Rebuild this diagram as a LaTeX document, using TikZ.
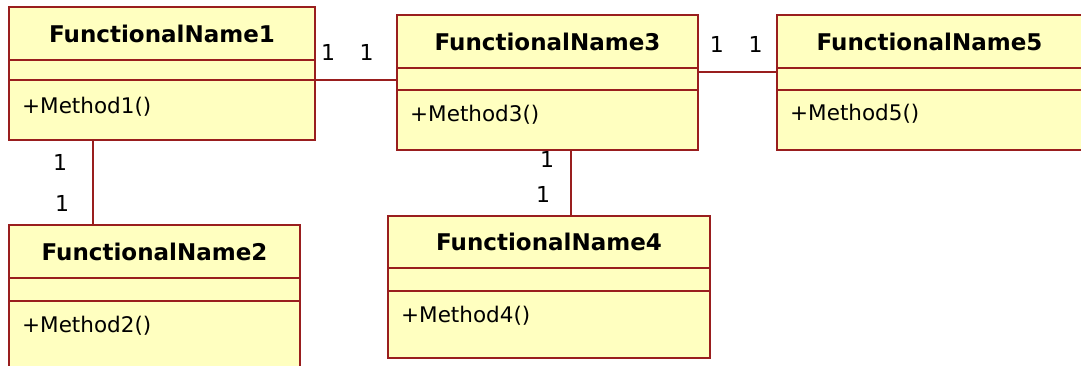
\documentclass[tikz,border=0pt]{standalone}
\usepackage{fontspec}
\setmainfont{DejaVu Sans}
\usepackage{tikz}
\usetikzlibrary{positioning}
\definecolor{umlfill}{RGB}{255,255,192}
\definecolor{umlline}{RGB}{153,30,30}
\tikzstyle{compart} = [draw=umlline, fill=umlfill, line width=2pt, inner sep=0pt, outer sep=0pt, anchor=north west]
\tikzstyle{classname} = [font=\bfseries\fontsize{23}{27}\selectfont]
\tikzstyle{method} = [font=\fontsize{21.5}{25}\selectfont, anchor=west, inner sep=0pt]
\tikzstyle{assoc} = [draw=umlline, line width=2pt]
\tikzstyle{mult} = [font=\fontsize{22}{26}\selectfont, inner sep=0pt]

\begin{document}
\begin{tikzpicture}[x=1pt, y=-1pt]
\useasboundingbox (0,0) rectangle (1081,366);
% class 1
\node (n1) [compart, classname, minimum width=306pt, minimum height=53pt] at (9,7) {FunctionalName1};
\node (a1) [compart, minimum width=306pt, minimum height=20pt] at (n1.south west) {};
\node (m1) [compart, minimum width=306pt, minimum height=60pt] at (a1.south west) {};
\node (t1) [method] at ([xshift=13pt, yshift=-27pt]m1.north west) {+Method1()};
% class 2
\node (n2) [compart, classname, minimum width=291pt, minimum height=53pt] at (9,225) {FunctionalName2};
\node (a2) [compart, minimum width=291pt, minimum height=23pt] at (n2.south west) {};
\node (m2) [compart, minimum width=291pt, minimum height=66pt] at (a2.south west) {};
\node (t2) [method] at ([xshift=13pt, yshift=-25pt]m2.north west) {+Method2()};
% class 3
\node (n3) [compart, classname, minimum width=301pt, minimum height=53pt] at (397,15) {FunctionalName3};
\node (a3) [compart, minimum width=301pt, minimum height=22pt] at (n3.south west) {};
\node (m3) [compart, minimum width=301pt, minimum height=60pt] at (a3.south west) {};
\node (t3) [method] at ([xshift=13pt, yshift=-25pt]m3.north west) {+Method3()};
% class 4
\node (n4) [compart, classname, minimum width=322pt, minimum height=52pt] at (388,216) {FunctionalName4};
\node (a4) [compart, minimum width=322pt, minimum height=23pt] at (n4.south west) {};
\node (m4) [compart, minimum width=322pt, minimum height=67pt] at (a4.south west) {};
\node (t4) [method] at ([xshift=13pt, yshift=-25pt]m4.north west) {+Method4()};
% class 5
\node (n5) [compart, classname, minimum width=305pt, minimum height=53pt] at (777,15) {FunctionalName5};
\node (a5) [compart, minimum width=305pt, minimum height=22pt] at (n5.south west) {};
\node (m5) [compart, minimum width=305pt, minimum height=60pt] at (a5.south west) {};
\node (t5) [method] at ([xshift=13pt, yshift=-24pt]m5.north west) {+Method5()};
% associations
\coordinate (p13) at (m1.north east);
\draw [assoc] (p13) -- node [mult, pos=0.16, yshift=28pt] {1} node [mult, pos=0.63, yshift=28pt] {1} (p13 -| a3.west);
\coordinate (p35) at ([yshift=-4pt]a3.north east);
\draw [assoc] (p35) -- node [mult, pos=0.24, yshift=28pt] {1} node [mult, pos=0.73, yshift=28pt] {1} (p35 -| a5.west);
\coordinate (p12) at ([xshift=84pt]m1.south west);
\draw [assoc] (p12) -- node [mult, pos=0.26, xshift=-33pt] {1} node [mult, pos=0.75, xshift=-31pt] {1} (p12 |- n2.north);
\coordinate (p34) at ([xshift=174pt]m3.south west);
\draw [assoc] (p34) -- node [mult, pos=0.14, xshift=-24pt] {1} node [mult, pos=0.68, xshift=-28pt] {1} (p34 |- n4.north);
\end{tikzpicture}
\end{document}
